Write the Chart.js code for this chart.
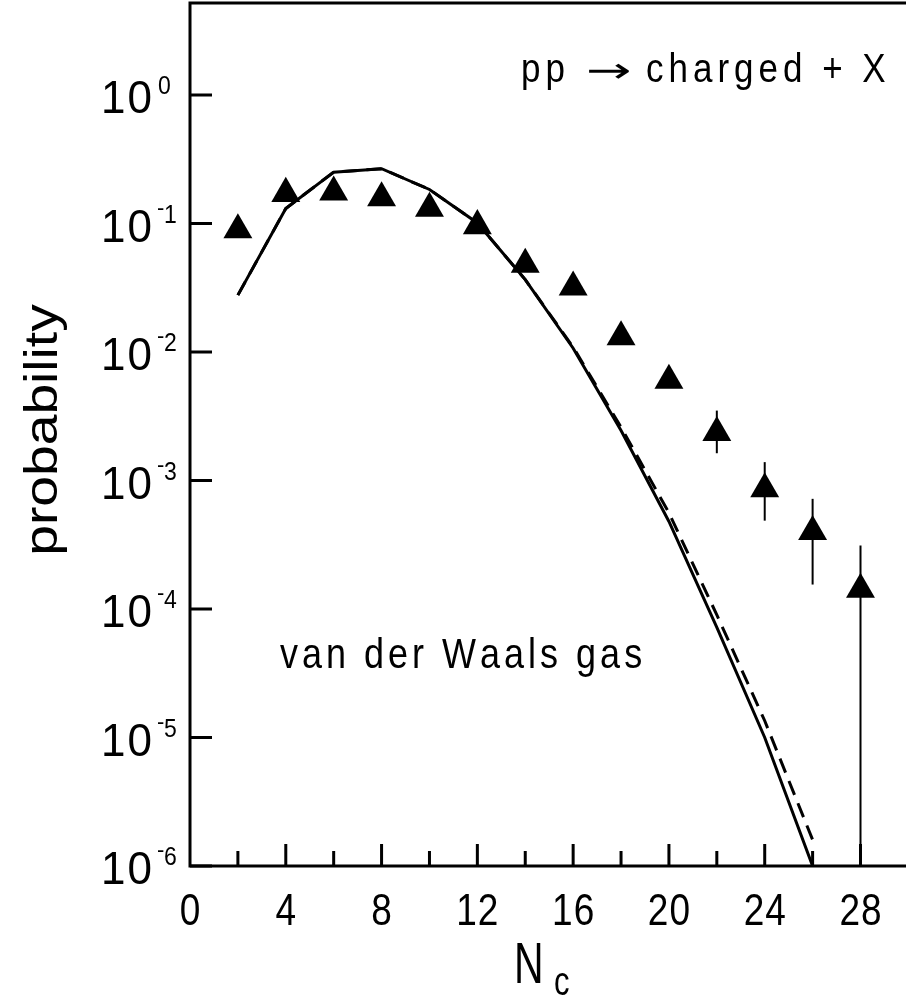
<!DOCTYPE html>
<html>
<head>
<meta charset="utf-8">
<script src="https://cdn.jsdelivr.net/npm/chart.js@4.4.0/dist/chart.umd.min.js"></script>
<style>
  html, body { margin: 0; padding: 0; background: #fff; }
  canvas { display: block; }
</style>
</head>
<body>
<canvas id="chart" width="906" height="1000"></canvas>
<script>
// Measured multiplicity distribution (triangles)
const ncData = [2, 4, 6, 8, 10, 12, 14, 16, 18, 20, 22, 24, 26, 28];
const probData = [0.089, 0.171, 0.175, 0.158, 0.131, 0.096, 0.048, 0.032, 0.0131, 0.0060, 0.00236, 0.00086, 0.00040, 0.000142];
const errHigh = [null, null, null, null, null, null, null, null, null, null, 0.0035, 0.00139, 0.00072, 0.000312];
const errLow = [null, null, null, null, null, null, null, null, null, null, 0.00163, 0.000487, 0.000155, 0.000001];

// van der Waals gas curves
const ncModel = [2, 4, 6, 8, 10, 12, 14, 16, 18, 20, 22, 24, 26];
const solidModel = [0.0277, 0.131, 0.251, 0.267, 0.184, 0.101, 0.0366, 0.0107, 0.00245, 0.00048, 0.000072, 0.0000100, 0.0000010];
const dashedModel = [0.0277, 0.131, 0.251, 0.267, 0.184, 0.101, 0.0366, 0.0109, 0.0026, 0.00056, 0.000090, 0.0000135, 0.0000016];

// Axis ticks
const xTicks = [2, 4, 6, 8, 10, 12, 14, 16, 18, 20, 22, 24, 26, 28];
const xLabels = [0, 4, 8, 12, 16, 20, 24, 28];
const yTicks = [1, 1e-1, 1e-2, 1e-3, 1e-4, 1e-5, 1e-6];
const yExponents = ['0', '-1', '-2', '-3', '-4', '-5', '-6'];

const FONT = '"Liberation Sans", Arial, Helvetica, sans-serif';

// Draw text char by char with extra spacing and a stretch
function drawText(ctx, text, x, y, size, opts) {
  const sx = opts.sx || 1;
  const sy = opts.sy || 1;
  const sp = opts.spacing || 0;
  ctx.save();
  ctx.font = size + 'px ' + (opts.family || FONT);
  ctx.fillStyle = '#000';
  ctx.textBaseline = 'alphabetic';
  ctx.textAlign = 'left';
  const chars = [...text];
  const widths = chars.map(c => ctx.measureText(c).width * sx);
  const total = widths.reduce((a, b) => a + b, 0) + sp * (chars.length - 1);
  let cx = x;
  if (opts.align === 'center') cx = x - total / 2;
  else if (opts.align === 'right') cx = x - total;
  chars.forEach((c, i) => {
    ctx.save();
    ctx.translate(cx, y);
    ctx.scale(sx, sy);
    ctx.fillText(c, 0, 0);
    ctx.restore();
    cx += widths[i] + sp;
  });
  ctx.restore();
  return total;
}

const framePlugin = {
  id: 'frame',
  afterDatasetsDraw(chart) {
    const ctx = chart.ctx;
    const xs = chart.scales.x, ys = chart.scales.y;

    // error bars
    ctx.save();
    ctx.strokeStyle = '#000';
    ctx.lineWidth = 2;
    ncData.forEach((n, i) => {
      if (errHigh[i] == null) return;
      const px = xs.getPixelForValue(n);
      ctx.beginPath();
      ctx.moveTo(px, ys.getPixelForValue(errHigh[i]));
      ctx.lineTo(px, ys.getPixelForValue(errLow[i]));
      ctx.stroke();
    });
    ctx.restore();
  },
  afterDraw(chart) {
    const ctx = chart.ctx;
    const xs = chart.scales.x, ys = chart.scales.y;
    const area = chart.chartArea;

    ctx.save();
    ctx.strokeStyle = '#000';
    ctx.lineWidth = 3;
    ctx.lineCap = 'butt';
    // frame: left, bottom, top
    ctx.beginPath();
    ctx.moveTo(area.left, area.top);
    ctx.lineTo(area.left, area.bottom);
    ctx.moveTo(area.left - 1.5, area.bottom);
    ctx.lineTo(area.right, area.bottom);
    ctx.moveTo(area.left - 1.5, area.top);
    ctx.lineTo(area.right, area.top);
    ctx.stroke();

    // inward ticks
    ctx.beginPath();
    xTicks.forEach(v => {
      const px = xs.getPixelForValue(v);
      const len = v % 4 === 0 ? 22 : 15;
      ctx.moveTo(px, area.bottom);
      ctx.lineTo(px, area.bottom - len);
    });
    yTicks.forEach(v => {
      const py = ys.getPixelForValue(v);
      ctx.moveTo(area.left, py);
      ctx.lineTo(area.left + 22, py);
    });
    ctx.stroke();
    ctx.restore();

    // y tick labels 10^n
    yTicks.forEach((v, i) => {
      const py = ys.getPixelForValue(v);
      drawText(ctx, '10', 152, py + 18, 44, { sy: 1.05, spacing: 2, align: 'right' });
      const e = yExponents[i];
      if (e[0] === '-') {
        drawText(ctx, '-', 157, py - 9, 22, {});
        drawText(ctx, e.slice(1), 164, py - 1, 23, { sy: 1.1 });
      } else {
        drawText(ctx, e, 158, py - 1, 23, { sy: 1.1 });
      }
    });

    // x tick labels
    xLabels.forEach(v => {
      const px = xs.getPixelForValue(v);
      drawText(ctx, String(v), px, 925, 37, { sy: 1.2, spacing: 1, align: 'center' });
    });

    // x axis title N_c
    drawText(ctx, 'N', 514, 983, 41, { sy: 1.42 });
    drawText(ctx, 'c', 554, 995, 31, { sy: 1.3 });

    // y axis title, rotated
    ctx.save();
    ctx.translate(57, 430);
    ctx.rotate(-Math.PI / 2);
    ctx.scale(1.2, 1);
    drawText(ctx, 'probability', 0, 0, 46, { align: 'center' });
    ctx.restore();

    // annotations
    drawText(ctx, 'pp', 521, 82, 35, { sy: 1.16, spacing: 5 });
    drawText(ctx, '\u2192', 586, 82, 35, { sx: 1.55, family: '"DejaVu Sans", sans-serif' });
    drawText(ctx, 'charged + X', 646, 82, 35, { sy: 1.16, spacing: 5 });
    drawText(ctx, 'van der Waals gas', 280, 668, 36, { sy: 1.2, spacing: 4 });
  }
};

const ctx = document.getElementById('chart').getContext('2d');
const chart = new Chart(ctx, {
  type: 'line',
  data: {
    datasets: [
      {
        label: 'van der Waals (solid)',
        data: ncModel.map((n, i) => ({ x: n, y: solidModel[i] })),
        borderColor: '#000',
        borderWidth: 3,
        pointRadius: 0,
        tension: 0,
        fill: false
      },
      {
        label: 'van der Waals (dashed)',
        data: ncModel.map((n, i) => ({ x: n, y: dashedModel[i] })),
        borderColor: '#000',
        borderWidth: 3,
        borderDash: [15, 9],
        pointRadius: 0,
        tension: 0,
        fill: false
      },
      {
        label: 'pp data',
        data: ncData.map((n, i) => ({ x: n, y: probData[i] })),
        showLine: false,
        pointStyle: 'triangle',
        pointRadius: 16.7,
        pointBackgroundColor: '#000',
        pointBorderWidth: 0,
        borderColor: '#000'
      }
    ]
  },
  options: {
    responsive: false,
    animation: false,
    devicePixelRatio: 1,
    layout: { autoPadding: false, padding: { left: 190, right: 0, top: 3, bottom: 134 } },
    plugins: {
      legend: { display: false },
      tooltip: { enabled: false }
    },
    scales: {
      x: { type: 'linear', min: 0, max: 29.9, display: false },
      y: { type: 'logarithmic', min: 1e-6, max: 5.2, display: false }
    }
  },
  plugins: [framePlugin]
});
</script>
</body>
</html>
